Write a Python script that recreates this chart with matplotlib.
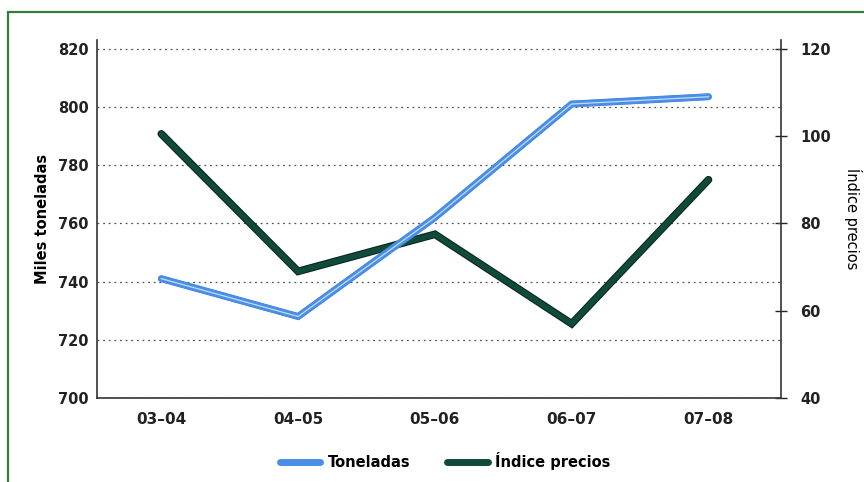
import matplotlib.pyplot as plt
import matplotlib.patheffects as pe
from matplotlib.patches import Rectangle

# Toneladas (miles) e índice de precios por campaña
campanas = ["03–04", "04–05", "05–06", "06–07", "07–08"]
toneladas = [741, 728, 762, 801, 803.5]
indice_precios = [100.5, 69, 77.5, 57, 90]

plt.rcParams['font.family'] = ['DejaVu Sans']
FS = 10.5

fig = plt.figure(figsize=(8.64, 4.82), dpi=100)
ax = fig.add_axes([97 / 864, 1 - 398 / 482, 684 / 864, 358 / 482])
ax2 = ax.twinx()
# las dos series se dibujan en ax, encima de la rejilla
ax.set_zorder(ax2.get_zorder() + 1)
ax.patch.set_visible(False)

x = range(len(campanas))

ax.set_xlim(-0.47, 4.53)
ax.set_ylim(700, 823)
ax2.set_ylim(40, 122)

# Índice de precios (escala derecha): verde oscuro con borde
ax.plot(x, indice_precios, transform=ax2.transData, color='#0f4a3a', lw=4,
        solid_capstyle='round', solid_joinstyle='miter', zorder=3,
        path_effects=[pe.Stroke(linewidth=5.5, foreground='#06251c'), pe.Normal()])

# Toneladas: azul con brillo claro interior
ax.plot(x, toneladas, color='#4a8ee6', lw=4.5, solid_capstyle='round',
        solid_joinstyle='miter', zorder=4,
        path_effects=[pe.Stroke(linewidth=5, foreground='#3f7fd6'), pe.Normal()])
ax.plot(x, toneladas, color='#d6e9fc', lw=0.9, alpha=0.85, zorder=5)

ax.set_yticks(range(700, 821, 20))
ax2.set_yticks(range(40, 121, 20))
ax.set_xticks(list(x))
ax.set_xticklabels(campanas)

ax.grid(True, axis='y', linestyle=(0, (1.5, 3)), color='#555555', lw=0.9)
ax.set_axisbelow(True)

for a in (ax, ax2):
    a.spines['top'].set_visible(False)
    for s in a.spines.values():
        s.set_color('#333333')
        s.set_linewidth(1.2)
ax.spines['right'].set_visible(False)
ax2.spines['left'].set_visible(False)
ax2.spines['bottom'].set_visible(False)

ax.tick_params(axis='y', length=0, pad=6, labelsize=FS, colors='#222222')
ax.tick_params(axis='x', length=0, pad=10, labelsize=FS + 0.5, colors='#222222')
ax2.tick_params(axis='y', length=8, direction='inout', width=1, pad=10,
                labelsize=FS, colors='#222222')
for lab in ax.get_yticklabels() + ax.get_xticklabels() + ax2.get_yticklabels():
    lab.set_fontweight('bold')

ax.set_ylabel("Miles toneladas", fontsize=FS, fontweight='bold', labelpad=6)
ax2.set_ylabel("Índice precios", fontsize=FS, rotation=-90, labelpad=22)

# Leyenda inferior
h1, = ax.plot([], [], color='#4a8ee6', lw=5, solid_capstyle='round')
h2, = ax.plot([], [], color='#0f4a3a', lw=5, solid_capstyle='round')
leg = fig.legend([h1, h2], ["Toneladas", "Índice precios"], loc='center',
                 bbox_to_anchor=(445 / 864, 1 - 461 / 482), ncol=2, frameon=False,
                 fontsize=FS, handlelength=2.8, columnspacing=2.5, handletextpad=0.5)
for t in leg.get_texts():
    t.set_fontweight('bold')

# Marco verde
fig.patches.append(Rectangle((8 / 864, -0.05), 1.1, 1 - 12 / 482 + 0.05,
                             transform=fig.transFigure, fill=False,
                             edgecolor='#2e7d3a', lw=1.6))

fig.savefig("out.png", dpi=100)
